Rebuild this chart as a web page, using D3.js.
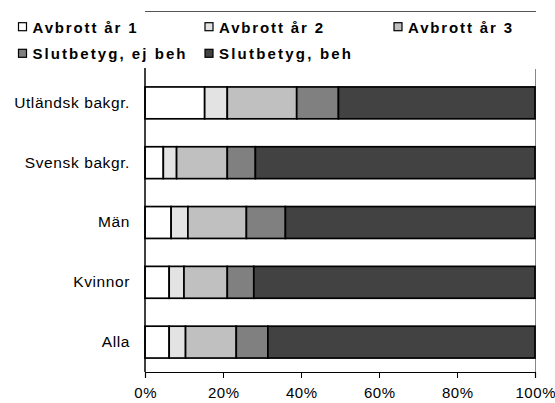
<!DOCTYPE html>
<html><head><meta charset="utf-8">
<script src="https://cdn.jsdelivr.net/npm/d3@7"></script>
<style>body{margin:0;background:#fff}svg{display:block}</style>
</head><body><svg id="c" width="555" height="403"></svg>
<script>
const categories = ["Utländsk bakgr.", "Svensk bakgr.", "Män", "Kvinnor", "Alla"];
const seriesNames = ["Avbrott år 1", "Avbrott år 2", "Avbrott år 3", "Slutbetyg, ej beh", "Slutbetyg, beh"];
const avbrott1 = [15.3, 4.7, 6.7, 6.2, 6.2];
const avbrott2 = [5.8, 3.4, 4.3, 3.8, 4.2];
const avbrott3 = [17.8, 13.0, 15.0, 11.1, 13.0];
const ejBeh = [10.7, 7.2, 10.0, 6.8, 8.1];
const beh = [50.4, 71.7, 64.0, 72.1, 68.5];
const tickValues = [0, 20, 40, 60, 80, 100];
const colors = ["#ffffff", "#e3e3e3", "#c0c0c0", "#808080", "#424242"];

const series = [avbrott1, avbrott2, avbrott3, ejBeh, beh];
const svg = d3.select("#c");
const mLeft = 145, mRight = 535, mTop = 73, mBottom = 372;
const FONT = "Liberation Sans, Arial, sans-serif";
const x = d3.scaleLinear().domain([0, 100]).range([mLeft, mRight]);
const y = d3.scaleBand().domain(categories).range([mTop, mBottom]).paddingInner(0.467).paddingOuter(0.233);

// plot frame pieces
svg.append("line").attr("x1", mLeft).attr("x2", mRight + 1).attr("y1", 11.5).attr("y2", 11.5).attr("stroke", "#555").attr("stroke-width", 1);
svg.append("line").attr("x1", mRight + 0.5).attr("x2", mRight + 0.5).attr("y1", 69).attr("y2", mBottom).attr("stroke", "#888").attr("stroke-width", 1);

// bars
const rows = categories.map((c, i) => {
  let acc = 0;
  return series.map((s, k) => { const v0 = acc; acc += s[i]; return {c, k, v0, v1: acc}; });
});
const total = rows.map(r => r[r.length - 1].v1);
rows.forEach((r, i) => {
  const g = svg.append("g");
  g.selectAll("rect").data(r).enter().append("rect")
    .attr("x", d => x(d.v0 / total[i] * 100))
    .attr("width", d => x(d.v1 / total[i] * 100) - x(d.v0 / total[i] * 100))
    .attr("y", y(categories[i]))
    .attr("height", y.bandwidth())
    .attr("fill", d => colors[d.k])
    .attr("stroke", "#000").attr("stroke-width", 1.7);
});

// x axis
const xa = svg.append("g").attr("transform", `translate(0,${mBottom})`)
  .call(d3.axisBottom(x).tickValues(tickValues).tickSize(6).tickFormat(d => d + "%"));
xa.select(".domain").attr("stroke", "#000").attr("stroke-width", 1.2);
xa.selectAll(".tick line").attr("stroke", "#000");
xa.selectAll("text").attr("font-family", FONT).attr("font-size", 15).attr("fill", "#000")
  .attr("y", 26).attr("dy", 0).attr("dx", "0.3px").attr("letter-spacing", "0.6px");

// y axis
const ya = svg.append("g").attr("transform", `translate(${mLeft},0)`)
  .call(d3.axisLeft(y).tickSize(0).tickPadding(15));
ya.select(".domain").attr("d", `M0,68V${mBottom}`).attr("stroke", "#000").attr("stroke-width", 1.5);
ya.selectAll("text").attr("font-family", FONT).attr("font-size", 15.5).attr("fill", "#000").attr("letter-spacing", "0.6px");

// legend
const legPos = [[18.5, 22.7], [205, 22.7], [394, 22.7], [18.5, 49.3], [205, 49.3]];
const legWidths = [104, 104, 104, 153, 132];
const lg = svg.append("g");
seriesNames.forEach((n, k) => {
  const [lx, ly] = legPos[k];
  lg.append("rect").attr("x", lx).attr("y", ly).attr("width", 8).attr("height", 8)
    .attr("fill", colors[k]).attr("stroke", "#000").attr("stroke-width", 1.2);
  lg.append("text").attr("x", lx + 14).attr("y", ly + 10).text(n)
    .attr("font-family", FONT).attr("font-weight", "bold")
    .attr("font-size", 15).attr("fill", "#000")
    .attr("textLength", legWidths[k]).attr("lengthAdjust", "spacing");
});
</script></body></html>
